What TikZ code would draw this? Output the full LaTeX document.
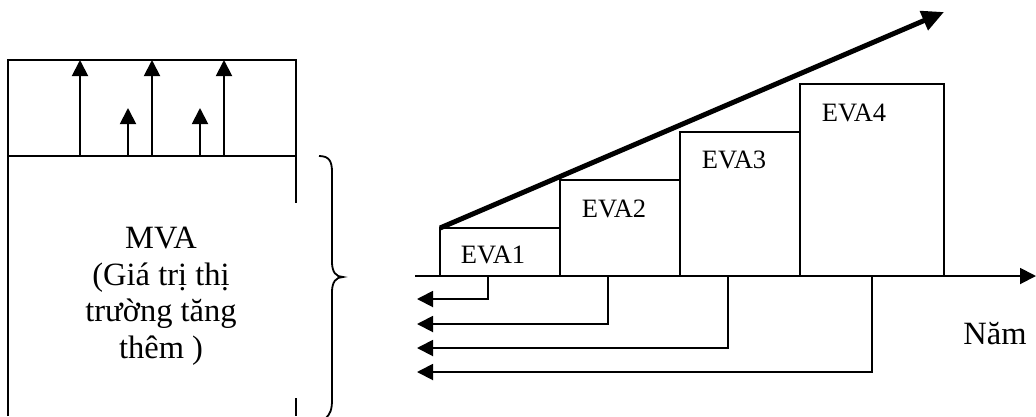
\documentclass[tikz,border=0pt]{standalone}
\usepackage{fontspec}
\setmainfont{Liberation Serif}
\usetikzlibrary{arrows.meta}
\begin{document}
\begin{tikzpicture}[x=1pt,y=-1pt,
  thin/.style={line width=1.9pt},
  arr/.style={thin,-{Triangle[length=16pt,width=16pt]}},
  thick arr/.style={line width=5pt,-{Triangle[length=22pt,width=20pt]}},
  evalabel/.style={anchor=base,inner sep=0pt,font=\fontsize{26.5pt}{30pt}\selectfont},
  biglabel/.style={inner sep=0pt,font=\fontsize{32.5pt}{36.5pt}\selectfont}]
\useasboundingbox (0,0) rectangle (1036,416);
% left box
\coordinate (ltl) at (8,60);
\coordinate (ltr) at (296,60);
\coordinate (lbl) at (8,416);
\coordinate (ldl) at (8,156);
\coordinate (ldr) at (296,156);
\coordinate (lrg1) at (296,203);
\coordinate (lrg2) at (296,398);
\coordinate (lrb) at (296,416);
\draw[thin] (lbl) -- (ltl) -- (ltr) -- (lrg1);
\draw[thin] (lrg2) -- (lrb);
\draw[thin] (ldl) -- (ldr);
% growth arrows
\foreach \x/\t in {80/60,128/108,152/60,200/108,224/60}{
  \coordinate (ga\x) at (\x,156);
  \coordinate (gb\x) at (\x,\t);
  \draw[arr] (ga\x) -- (gb\x);
}
\node[biglabel,align=center] (mva) at (161,296) {MVA\\(Giá trị thị\\trường tăng\\thêm )};
% brace
\draw[line width=1.8pt] (319,156) .. controls (329,156) and (332,161) .. (332,172) -- (332,262)
  .. controls (332,272) and (336,277) .. (343,277)
  .. controls (336,277) and (332,282) .. (332,292) -- (332,400)
  .. controls (332,410) and (330,414) .. (326,418);
% axis
\coordinate (ax0) at (415,276);
\coordinate (ax1) at (1036,276);
\draw[arr] (ax0) -- (ax1);
% EVA boxes
\draw[thin] (440,276) rectangle (560,228);
\draw[thin] (560,276) rectangle (680,180);
\draw[thin] (680,276) rectangle (800,132);
\draw[thin] (800,276) rectangle (944,84);
\node[evalabel] (e1) at (493,263) {EVA1};
\node[evalabel] (e2) at (614,217) {EVA2};
\node[evalabel] (e3) at (734,168) {EVA3};
\node[evalabel] (e4) at (854,121) {EVA4};
% thick trend arrow
\coordinate (t0) at (440,228);
\coordinate (t1) at (944,12);
\draw[thick arr] (t0) -- (t1);
% discount hooks
\foreach \x/\y in {488/299,608/324,728/348,872/372}{
  \coordinate (ha\x) at (\x,276);
  \coordinate (hb\x) at (\x,\y);
  \coordinate (hc\x) at (417,\y);
  \draw[arr] (ha\x) -- (hb\x) -- (hc\x);
}
\node[biglabel,anchor=base] (nam) at (995,344) {Năm};
\end{tikzpicture}
\end{document}
